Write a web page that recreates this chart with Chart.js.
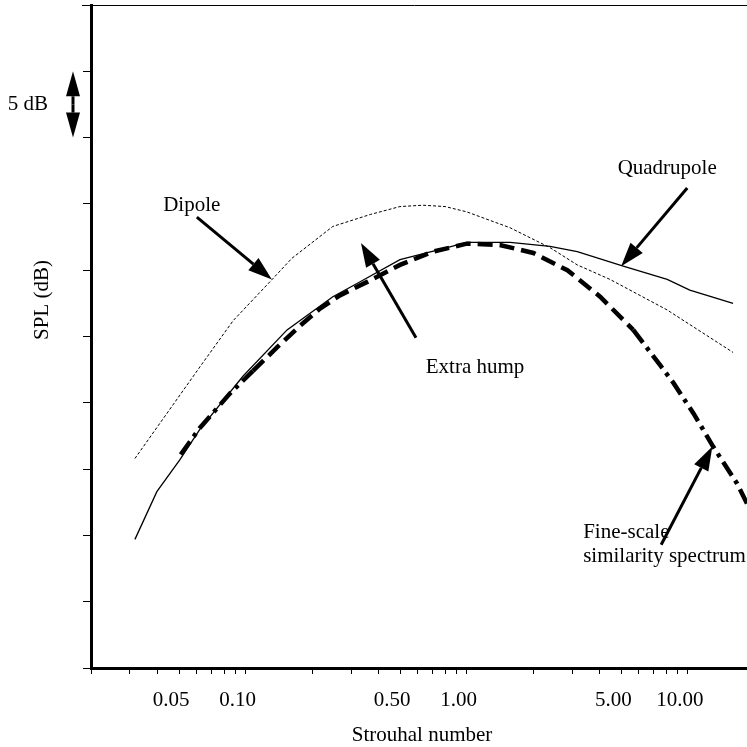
<!DOCTYPE html>
<html>
<head>
<meta charset="utf-8">
<title>SPL vs Strouhal number</title>
<script src="https://cdn.jsdelivr.net/npm/chart.js@4.4.1/dist/chart.umd.min.js"></script>
<style>
  html, body { margin: 0; padding: 0; background: #fff; }
  #wrap { width: 747px; height: 747px; }
</style>
</head>
<body>
<div id="wrap"><canvas id="spectra"></canvas></div>
<script>
// dipole spectrum
var dipoleSt  = [0.0316, 0.0621, 0.0879, 0.1318, 0.162, 0.248, 0.366, 0.499, 0.634, 0.798, 1.0, 1.57, 2.38, 3.16, 4.45, 8.06, 16.0];
var dipoleSpl = [15.8, 22.7, 26.2, 29.3, 30.9, 33.3, 34.2, 34.8, 34.9, 34.8, 34.4, 33.2, 31.7, 30.4, 29.3, 27.0, 23.8];

// quadrupole spectrum
var quadSt  = [0.0316, 0.0397, 0.0504, 0.0621, 0.0973, 0.154, 0.248, 0.319, 0.499, 0.815, 1.0, 1.57, 2.38, 3.16, 5.10, 8.06, 10.2, 16.0];
var quadSpl = [9.7, 13.3, 15.7, 18.0, 22.0, 25.5, 28.0, 29.0, 30.8, 31.7, 32.1, 32.1, 31.8, 31.4, 30.3, 29.3, 28.5, 27.5];

// fine-scale similarity spectrum
var fineSt  = [0.0509, 0.0621, 0.0849, 0.108, 0.139, 0.176, 0.217, 0.267, 0.353, 0.499, 0.704, 1.0, 1.41, 2.0, 2.85, 4.01, 5.66, 7.52, 8.6, 10.6, 13.0, 16.7, 18.5];
var fineSpl = [16.1, 18.1, 20.7, 22.4, 24.2, 25.8, 27.1, 28.1, 29.1, 30.4, 31.4, 32.0, 31.9, 31.3, 30.0, 28.0, 25.5, 22.8, 21.5, 19.2, 16.7, 13.9, 12.4];

// log axis tick marks and the ones that carry a label
var xTicks = [0.02, 0.03, 0.04, 0.05, 0.06, 0.07, 0.08, 0.09,
              0.1, 0.2, 0.3, 0.4, 0.5, 0.6, 0.7, 0.8, 0.9,
              1, 2, 3, 4, 5, 6, 7, 8, 9, 10];
var xLabelAt   = [0.05, 0.1, 0.5, 1, 5, 10];
var xLabelText = ['0.05', '0.10', '0.50', '1.00', '5.00', '10.00'];

var serif = '"Liberation Serif", "Times New Roman", serif';

function pts(xs, ys) {
  return xs.map(function (x, i) { return { x: x, y: ys[i] }; });
}

function arrow(ctx, x0, y0, x1, y1, len, half) {
  var a = Math.atan2(y1 - y0, x1 - x0);
  var bx = x1 - len * Math.cos(a), by = y1 - len * Math.sin(a);
  ctx.beginPath();
  ctx.moveTo(x0, y0);
  ctx.lineTo(bx, by);
  ctx.stroke();
  ctx.beginPath();
  ctx.moveTo(x1, y1);
  ctx.lineTo(bx + half * Math.sin(a), by - half * Math.cos(a));
  ctx.lineTo(bx - half * Math.sin(a), by + half * Math.cos(a));
  ctx.closePath();
  ctx.fill();
}

// labels and pointer arrows, placed in data coordinates
var labels = [
  { text: 'Dipole', st: 0.0571, spl: 34.9, align: 'center' },
  { text: 'Extra hump', st: 1.09, spl: 22.7, align: 'center' },
  { text: 'Quadrupole', st: 8.06, spl: 37.7, align: 'center' },
  { text: 'Fine-scale', st: 3.36, spl: 10.2, align: 'left' },
  { text: 'similarity spectrum', st: 3.36, spl: 8.4, align: 'left' }
];
var pointers = [
  { from: [0.0602, 34.0], to: [0.1315, 29.3] },
  { from: [0.5896, 24.9], to: [0.3324, 32.05] },
  { from: [9.93, 36.2],   to: [4.99, 30.3] },
  { from: [7.57, 9.3],    to: [12.9, 16.7] }
];

var notes = {
  id: 'notes',
  afterDatasetsDraw: function (chart) {
    var ctx = chart.ctx, xs = chart.scales.x, ys = chart.scales.y, area = chart.chartArea;
    ctx.save();
    ctx.fillStyle = '#000';
    ctx.strokeStyle = '#000';

    // thin frame line along the top
    ctx.lineWidth = 1;
    ctx.beginPath();
    ctx.moveTo(area.left - 9, area.top + 0.5);
    ctx.lineTo(area.right, area.top + 0.5);
    ctx.stroke();

    ctx.font = '21px ' + serif;
    ctx.textBaseline = 'middle';
    labels.forEach(function (l) {
      ctx.textAlign = l.align;
      ctx.fillText(l.text, xs.getPixelForValue(l.st), ys.getPixelForValue(l.spl));
    });

    ctx.lineWidth = 3;
    pointers.forEach(function (p) {
      arrow(ctx, xs.getPixelForValue(p.from[0]), ys.getPixelForValue(p.from[1]),
                 xs.getPixelForValue(p.to[0]), ys.getPixelForValue(p.to[1]), 24, 8);
    });

    // 5 dB scale bar
    var bx = area.left - 18, yTop = ys.getPixelForValue(45), yBot = ys.getPixelForValue(40);
    var mid = (yTop + yBot) / 2;
    arrow(ctx, bx, mid, bx, yTop, 25, 7);
    arrow(ctx, bx, mid, bx, yBot, 25, 7);
    ctx.textAlign = 'right';
    ctx.fillText('5 dB', area.left - 43, ys.getPixelForValue(42.5));

    // axis titles
    ctx.textAlign = 'center';
    ctx.fillText('Strouhal number', (area.left + area.right) / 2 + 3, area.bottom + 67);
    ctx.translate(area.left - 49, area.top + 295);
    ctx.rotate(-Math.PI / 2);
    ctx.fillText('SPL (dB)', 0, 0);
    ctx.restore();
  }
};

new Chart(document.getElementById('spectra'), {
  type: 'scatter',
  data: {
    datasets: [
      {
        label: 'Dipole',
        data: pts(dipoleSt, dipoleSpl),
        showLine: true,
        borderColor: '#000',
        borderWidth: 1,
        borderDash: [3, 2],
        pointRadius: 0
      },
      {
        label: 'Quadrupole',
        data: pts(quadSt, quadSpl),
        showLine: true,
        borderColor: '#000',
        borderWidth: 1.3,
        pointRadius: 0
      },
      {
        label: 'Fine-scale similarity spectrum',
        data: pts(fineSt, fineSpl),
        showLine: true,
        borderColor: '#000',
        borderWidth: 4.5,
        pointRadius: 0,
        segment: {
          // dash-dot at both ends, plain dashes through the peak
          borderDash: function (c) {
            var x = c.p0.parsed.x;
            return (x < 0.09 || x >= 5.66) ? [16, 6, 4, 6] : [15, 7];
          }
        }
      }
    ]
  },
  options: {
    responsive: true,
    maintainAspectRatio: false,
    animation: false,
    layout: { padding: { top: 5, right: 0, bottom: 0, left: 0 } },
    plugins: { legend: { display: false }, tooltip: { enabled: false } },
    scales: {
      x: {
        type: 'logarithmic',
        min: 0.02,
        max: 18.5,
        afterBuildTicks: function (s) {
          s.ticks = xTicks.map(function (v) { return { value: v }; });
        },
        afterFit: function (s) { s.height = 79; },
        border: { display: true, color: '#000', width: 3 },
        grid: { drawOnChartArea: false, drawTicks: true, tickLength: 6, color: '#000', lineWidth: 1 },
        ticks: {
          autoSkip: false,
          maxRotation: 0,
          color: '#000',
          padding: 14,
          labelOffset: -8,
          font: { family: serif, size: 21 },
          callback: function (v) {
            for (var i = 0; i < xLabelAt.length; i++) {
              if (Math.abs(v - xLabelAt[i]) < 1e-9 * xLabelAt[i]) return xLabelText[i];
            }
            return '';
          }
        }
      },
      y: {
        type: 'linear',
        min: 0,
        max: 50,
        afterFit: function (s) { s.width = 91; },
        border: { display: true, color: '#000', width: 3 },
        grid: { drawOnChartArea: false, drawTicks: true, tickLength: 8, color: '#000', lineWidth: 1 },
        ticks: { stepSize: 5, display: false }
      }
    }
  },
  plugins: [notes]
});
</script>
</body>
</html>
